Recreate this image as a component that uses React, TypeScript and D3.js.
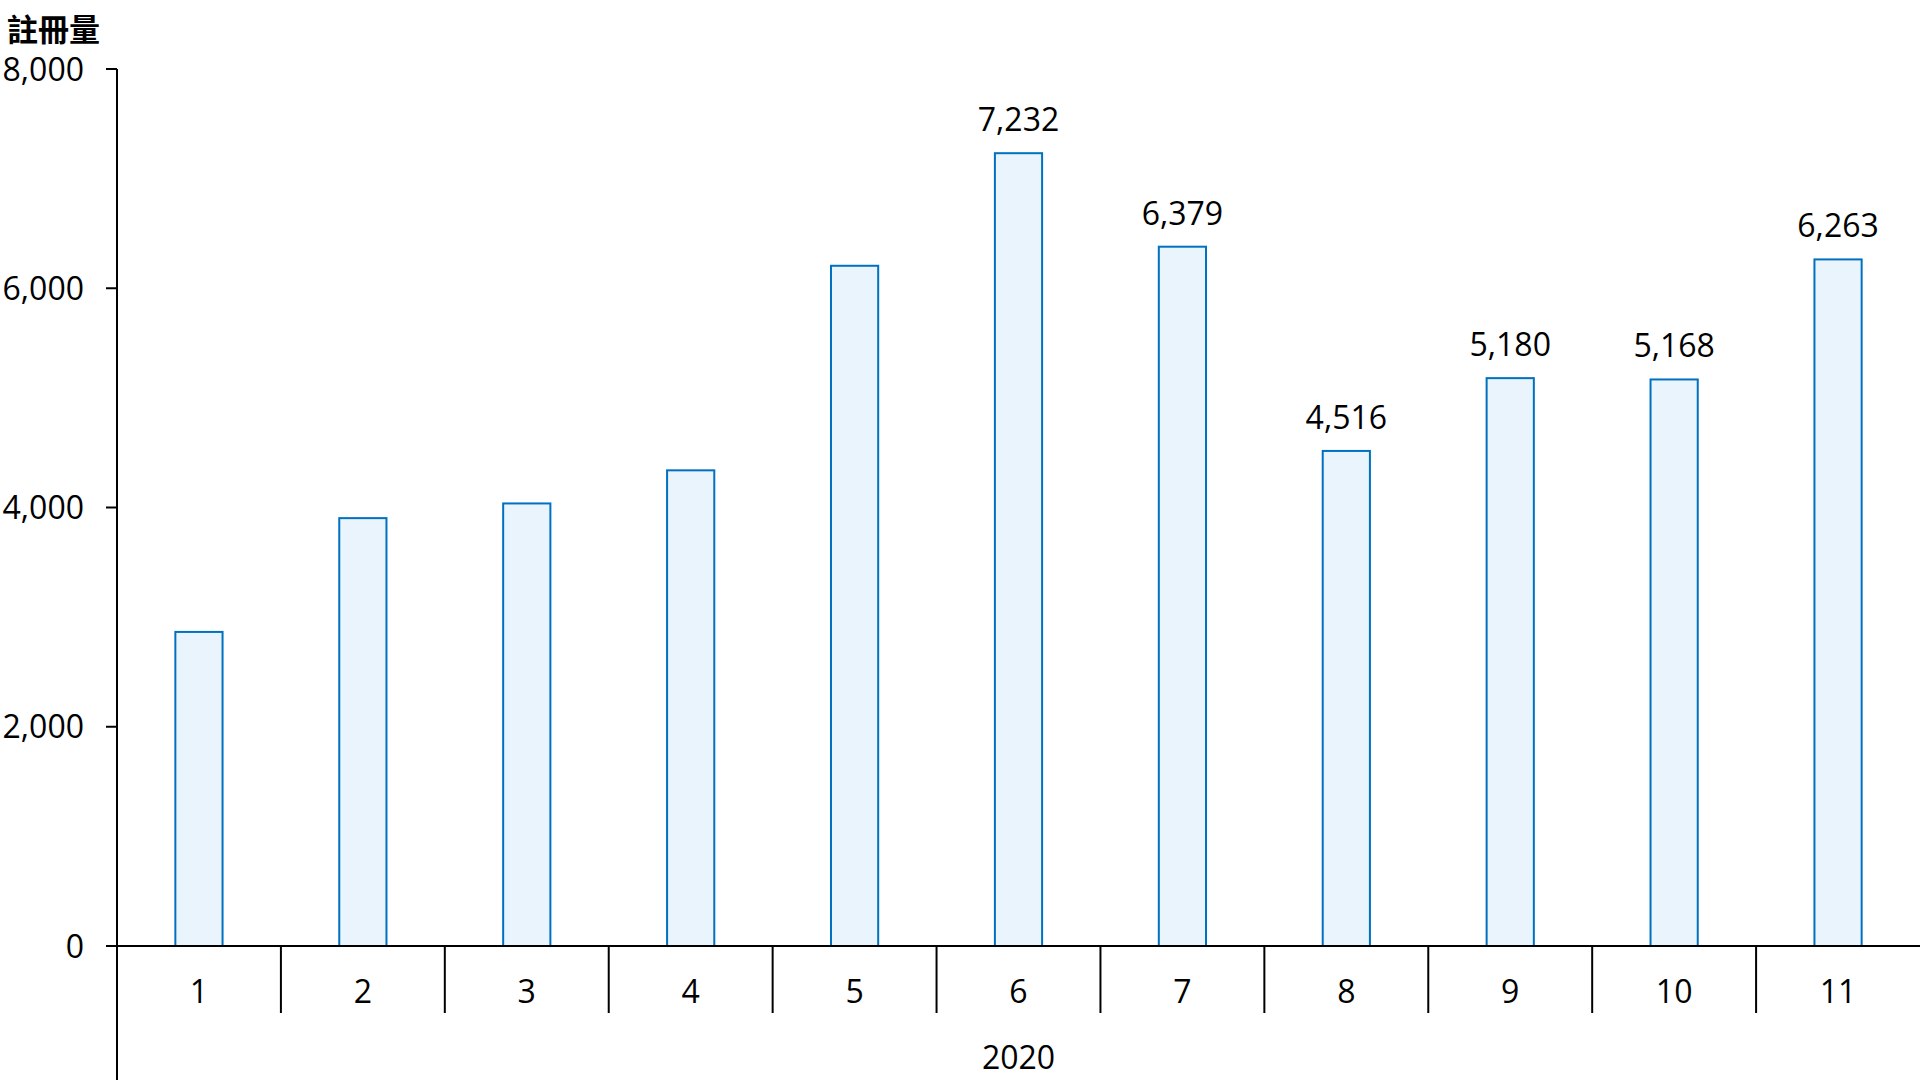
import React from "react";
import * as d3 from "d3";

const months = ["1", "2", "3", "4", "5", "6", "7", "8", "9", "10", "11"];
const registrations = [2865, 3903, 4037, 4339, 6205, 7232, 6379, 4516, 5180, 5168, 6263];
const showLabel = [false, false, false, false, false, true, true, true, true, true, true];
const yTicks = [0, 2000, 4000, 6000, 8000];
const yearLabel = "2020";
const yTitle = "註冊量";

const W = 1920;
const H = 1080;
const left = 117;
const right = 1920;
const top = 69;
const zeroY = 946;
const font = "'Open Sans', 'Noto Sans', sans-serif";

export default function App() {
  const x = d3.scaleBand<string>().domain(months).range([left, right]).paddingInner(0).paddingOuter(0);
  const y = d3.scaleLinear().domain([0, 8000]).range([zeroY, top]);
  const bw = x.bandwidth() * 0.288;
  const fmt = d3.format(",");

  return (
    <svg width={W} height={H} style={{ position: "absolute", left: 0, top: 0, background: "#fff" }}>
      <text x={7} y={41} fontFamily="'Noto Sans CJK TC', sans-serif" fontWeight={700} fontSize={31} fill="#000">
        {yTitle}
      </text>
      {registrations.map((v, i) => {
        const cx = (x(months[i]) as number) + x.bandwidth() / 2;
        return (
          <g key={i}>
            <rect
              x={cx - bw / 2}
              y={y(v)}
              width={bw}
              height={zeroY - y(v)}
              fill="#EAF4FD"
              stroke="#0070C0"
              strokeWidth={2}
            />
            {showLabel[i] && (
              <text x={cx} y={y(v) - 22} textAnchor="middle" fontFamily={font} fontSize={32} fill="#000">
                {fmt(v)}
              </text>
            )}
          </g>
        );
      })}
      {yTicks.map((t) => (
        <g key={t}>
          <line x1={106} x2={left} y1={y(t)} y2={y(t)} stroke="#000" strokeWidth={2} />
          <text x={84} y={y(t)} dy="0.36em" textAnchor="end" fontFamily={font} fontSize={32} fill="#000">
            {fmt(t)}
          </text>
        </g>
      ))}
      <line x1={left} x2={left} y1={top} y2={H} stroke="#000" strokeWidth={2} />
      <line x1={106} x2={right} y1={zeroY} y2={zeroY} stroke="#000" strokeWidth={2} />
      {months.map((m, i) => {
        const bx = (x(m) as number) + x.bandwidth();
        const cx = (x(m) as number) + x.bandwidth() / 2;
        return (
          <g key={m}>
            {i < months.length - 1 && (
              <line x1={bx} x2={bx} y1={zeroY} y2={1013} stroke="#000" strokeWidth={2} />
            )}
            <text x={cx} y={1003} textAnchor="middle" fontFamily={font} fontSize={32} fill="#000">
              {m}
            </text>
          </g>
        );
      })}
      <text x={(left + right) / 2} y={1069} textAnchor="middle" fontFamily={font} fontSize={32} fill="#000">
        {yearLabel}
      </text>
    </svg>
  );
}
